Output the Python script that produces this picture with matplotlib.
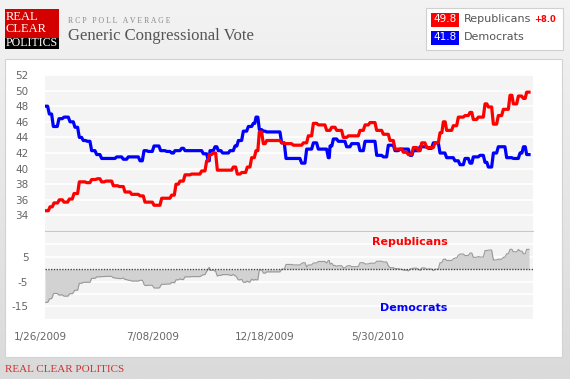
import numpy as np
import matplotlib.pyplot as plt
import matplotlib.transforms as mtransforms
from matplotlib.patches import Rectangle
from matplotlib.colors import LinearSegmentedColormap

plt.rcParams['axes.unicode_minus'] = False

# RCP poll average, step knots: days since 1/26/2009 and value
rep_days = [6.7, 14, 19.8, 27.5, 34.3, 42.0, 48.8, 56.5, 67.2, 74.4, 82.6, 88.9,
            95.2, 105.9, 114.6, 122.8, 132.5, 144.6, 151.8, 164.9, 176.0, 190.5,
            196.8, 202.6, 209.9, 219.5, 234.0, 241.3, 245.2, 251.0, 256.8, 280.0,
            285.8, 292.1, 300.3, 306.6, 312.9, 317.7, 323.5, 328.4, 350.1, 355,
            367, 381.6, 388.8, 396.1, 403.3, 415.4, 422.7, 430, 439.6, 446.9,
            463.8, 471.1, 478.3, 488, 497.7, 507.3, 514.6, 526.7, 533.9, 541.2,
            548.4, 553.3, 560.5, 572.6, 579.9, 584.7, 589.5, 599.2, 606.5, 616.2,
            623.4, 628.2, 635.5, 645.2, 650, 657.3, 664.5, 671.8, 681.5, 686.3,
            693.6, 700.8, 705.6]
rep_vals = [34.6, 35.1, 35.6, 36.0, 35.7, 36.1, 36.8, 38.3, 38.2, 38.6, 38.7, 38.3,
            38.4, 37.8, 37.7, 37.0, 36.7, 36.5, 35.7, 35.3, 36.2, 36.6,
            38.0, 38.4, 39.2, 39.3, 39.7, 41.0, 41.8, 42.0, 39.8, 40.2,
            39.3, 39.5, 40.2, 41.4, 42.3, 44.7, 43.2, 43.6, 43.3, 43.2,
            43.0, 43.3, 44.2, 45.8, 45.6, 44.9, 45.3, 44.9, 44.0, 44.2,
            44.9, 45.6, 45.9, 44.9, 44.4, 43.6, 42.5, 42.1, 41.8, 42.7,
            42.3, 43.3, 42.7, 43.3, 44.6, 46.0, 44.9, 45.5, 46.6, 46.8,
            47.2, 46.3, 46.6, 48.3, 47.9, 45.7, 46.8, 47.6, 49.4, 48.3,
            49.3, 49.0, 49.8]

dem_days = [6.7, 13.0, 18.8, 27.0, 34.3, 43.0, 50.2, 56.5, 62.3, 68.1, 74.4, 81.7,
            88.9, 110.7, 120.4, 127.6, 144.6, 150.4, 156.6, 164.9, 174.5, 183.3,
            190.5, 195.3, 205.0, 209.9, 236.5, 243.7, 246.1, 253.4, 258.2, 264.5,
            275.2, 282.4, 287.3, 294.5, 301.8, 309.0, 312.9, 317.7, 323.5, 328.4,
            350.1, 356.4, 379.1, 386.4, 396.1, 403.3, 417.8, 420.3, 425.1, 432.3,
            444.4, 451.7, 463.8, 471.1, 488, 497.7, 504.9, 514.6, 521.8, 536.4,
            541.2, 550.9, 563, 570.2, 579.9, 589.5, 601.6, 608.9, 616.2, 623.4,
            628.2, 637.9, 645.2, 650, 657.3, 664.5, 676.6, 686.3, 696, 701, 705.6]
dem_vals = [48.0, 47.0, 45.4, 46.4, 46.6, 46.0, 45.3, 44.0, 43.6, 43.5, 42.3, 41.8,
            41.3, 41.5, 41.2, 41.5, 41.0, 42.3, 42.2, 42.9, 42.3, 42.2,
            42.0, 42.3, 42.6, 42.3, 41.9, 41.0, 42.3, 42.8, 42.3, 42.0,
            42.3, 42.9, 43.6, 44.8, 45.4, 45.8, 46.6, 45.0, 44.8, 44.7,
            43.3, 41.3, 40.7, 42.5, 43.3, 42.5, 41.4, 42.9, 43.8, 43.5,
            42.8, 43.2, 42.3, 43.5, 41.7, 41.5, 43.0, 42.3, 42.5, 41.7,
            42.3, 42.8, 42.6, 43.3, 42.0, 41.4, 41.0, 40.5, 41.3, 40.7,
            41.5, 41.7, 40.8, 40.2, 42.0, 42.8, 41.4, 41.3, 42.0, 42.8, 41.8]
end_day = 709

date_days = [0, 163, 326, 489]
date_labels = ['1/26/2009', '7/08/2009', '12/18/2009', '5/30/2010']

top_ticks = [34, 36, 38, 40, 42, 44, 46, 48, 50, 52]
spread_ticks = [5, -5, -15]

rep_last = rep_vals[-1]
dem_last = dem_vals[-1]

W, H = 570, 379


def fx(px):
    return px / W


def fy(py):
    return 1 - py / H


def ramped(days, vals, ramp=2.5):
    # step line with short sloped transitions, like the RCP chart
    xs, ys = [days[0]], [vals[0]]
    for i in range(1, len(days)):
        r = min(ramp, 0.45 * (days[i] - days[i - 1]))
        xs += [days[i] - r, days[i]]
        ys += [vals[i - 1], vals[i]]
    xs.append(end_day)
    ys.append(vals[-1])
    return np.array(xs), np.array(ys)


fig = plt.figure(figsize=(W / 100, H / 100), dpi=100)

# page background gradient
bg = fig.add_axes([0, 0, 1, 1], zorder=-10)
grad = np.linspace(0, 1, 256).reshape(-1, 1)
bg.imshow(grad, aspect='auto', extent=[0, 1, 0, 1],
          cmap=LinearSegmentedColormap.from_list('g', ['#f3f3f3', '#dadada']))
bg.set_xlim(0, 1)
bg.set_ylim(0, 1)
bg.axis('off')

# white panel
fig.patches.append(Rectangle((fx(5), fy(357)), fx(557), 298 / H, transform=fig.transFigure,
                             fc='white', ec='#d2d2d2', lw=0.8, zorder=-5))

# logo
fig.patches.append(Rectangle((fx(5), fy(49)), fx(54), 40 / H, transform=fig.transFigure,
                             fc='#d40000', ec='none'))
fig.patches.append(Rectangle((fx(5), fy(49)), fx(54), 11 / H, transform=fig.transFigure,
                             fc='black', ec='none'))
for txt, y in [('REAL', 17.5), ('CLEAR', 28.5)]:
    fig.text(fx(5.5), fy(y), txt, color='white', fontsize=9, family='Liberation Serif',
             va='center', ha='left')
fig.text(fx(5.5), fy(43.5), 'POLITICS', color='white', fontsize=8.6,
         family='Liberation Serif', va='center', ha='left')

fig.text(fx(68), fy(21), 'R C P   P O L L   A V E R A G E', color='#888888', fontsize=5.6,
         family='Liberation Serif', va='center')
fig.text(fx(68), fy(36), 'Generic Congressional Vote', color='#555555', fontsize=12,
         family='Liberation Serif', va='center')

# legend box
fig.patches.append(Rectangle((fx(426), fy(50)), fx(137), 42 / H, transform=fig.transFigure,
                             fc='white', ec='#d0d0d0', lw=0.8))
for val, col, y, name in [(rep_last, '#ff0000', 19.5, 'Republicans'),
                          (dem_last, '#0000ff', 37.5, 'Democrats')]:
    fig.patches.append(Rectangle((fx(431), fy(y + 7)), fx(28), 14 / H,
                                 transform=fig.transFigure, fc=col, ec='none'))
    fig.text(fx(445), fy(y), f'{val:.1f}', color='white', fontsize=7.5, ha='center',
             va='center')
    fig.text(fx(464), fy(y), name, color='#555555', fontsize=8, va='center')
fig.text(fx(534), fy(20), f'+{rep_last - dem_last:.1f}', color='#ff0000', fontsize=6,
         fontweight='bold', va='center')

# top chart
ax = fig.add_axes([fx(45), fy(231), fx(488), 156 / H])
ax.set_facecolor('#f4f4f4')
rx, ry = ramped(rep_days, rep_vals)
bx, by = ramped(dem_days, dem_vals)
ax.plot(bx, by, color='#0000ff', lw=2.3)
ax.plot(rx, ry, color='#ff0000', lw=2.3)
ax.set_xlim(6.7, 714.8)
ax.set_ylim(32, 52)
ax.set_yticks(top_ticks)
ax.set_xticks([])
ax.grid(axis='y', color='white', lw=1.2)
ax.set_axisbelow(True)
for s in ['top', 'left', 'right']:
    ax.spines[s].set_visible(False)
ax.spines['bottom'].set_color('#c8c8c8')
ax.tick_params(axis='y', length=0, pad=12, labelsize=7.5, labelcolor='#666666')

# spread chart (Republicans minus Democrats)
ax2 = fig.add_axes([fx(45), fy(318.7), fx(488), 86.7 / H])
ax2.set_facecolor('#f4f4f4')
days = np.union1d(rx, bx)
spread = np.interp(days, rx, ry) - np.interp(days, bx, by)
ax2.fill_between(days, spread, 0, color='#d2d2d2', lw=0)
ax2.plot(days, spread, color='#999999', lw=0.8)
ax2.axhline(0, color='#444444', lw=1, ls=(0, (1, 1)))
ax2.set_xlim(6.7, 714.8)
ax2.set_ylim(-20, 15)
ax2.set_yticks(spread_ticks)
ax2.set_yticks([10, 0, -10], minor=True)
ax2.set_xticks([])
ax2.grid(axis='y', which='both', color='white', lw=1.2)
ax2.set_axisbelow(True)
for s in ax2.spines.values():
    s.set_visible(False)
ax2.tick_params(axis='y', which='both', length=0, pad=12, labelsize=7.5,
                labelcolor='#666666')
ax2.text(0.747, 0.88, 'Republicans', transform=ax2.transAxes, color='#ff0000',
         fontsize=8, fontweight='bold', ha='center', va='center')
ax2.text(0.755, 0.12, 'Democrats', transform=ax2.transAxes, color='#0000ff',
         fontsize=8, fontweight='bold', ha='center', va='center')

trans = mtransforms.blended_transform_factory(ax2.transData, ax2.transAxes)
for d, lab in zip(date_days, date_labels):
    ax2.text(d, -0.21, lab, transform=trans, color='#666666', fontsize=7.5,
             ha='center', va='center', clip_on=False)

fig.text(fx(5), fy(370), 'REAL CLEAR POLITICS', color='#cc3333', fontsize=8,
         family='Liberation Serif', va='center')

fig.savefig('out.png', dpi=100)
